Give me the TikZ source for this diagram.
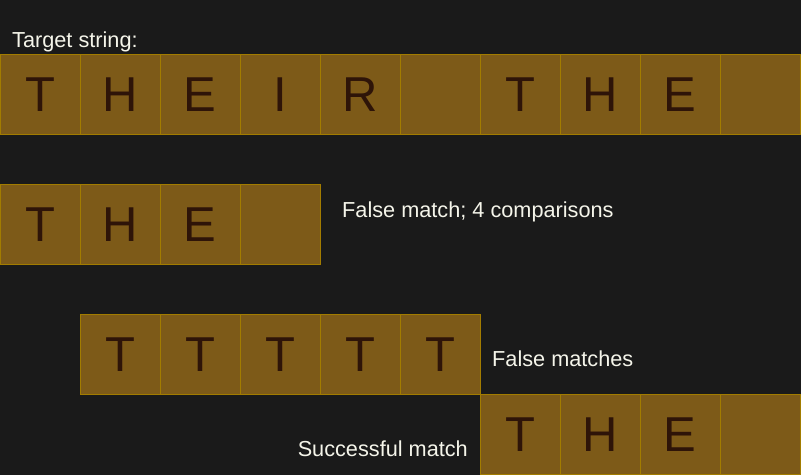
\documentclass[tikz,border=0pt]{standalone}
\usepackage{fontspec}
\setmainfont{Liberation Sans}
\definecolor{bgc}{HTML}{1A1A1A}
\definecolor{cellfill}{HTML}{7D5A18}
\definecolor{celledge}{HTML}{A27C00}
\definecolor{letterc}{HTML}{2E1408}
\definecolor{labelc}{HTML}{F5F5EA}
\begin{document}
\begin{tikzpicture}[x=1pt,y=-1pt,
  cell/.style={draw=celledge,line width=1pt,fill=cellfill,minimum width=80pt,minimum height=80pt,
    inner sep=0pt,text height=35pt,text depth=0pt,text=letterc,font=\fontsize{49}{49}\selectfont},
  lbl/.style={text=labelc,font=\fontsize{21.7}{21.7}\selectfont,inner sep=0pt,anchor=base west}]
\fill[bgc] (0,0) rectangle (801,475);
\useasboundingbox (0,0) rectangle (801,475);
% row 1: target
\foreach \L [count=\i from 0] in {T,H,E,I,R,{},T,H,E,{}} {
  \node[cell] (a\i) at (40+80*\i,94) {\L};
}
% row 2
\foreach \L [count=\i from 0] in {T,H,E,{}} {
  \node[cell] (b\i) at (40+80*\i,224) {\L};
}
% row 3
\foreach \L [count=\i from 0] in {T,T,T,T,T} {
  \node[cell] (c\i) at (120+80*\i,354) {\L};
}
% row 4
\foreach \L [count=\i from 0] in {T,H,E,{}} {
  \node[cell] (d\i) at (520+80*\i,434) {\L};
}
\node[lbl] (t1) at (12,47) {Target string:};
\node[lbl] (t2) at (342,217) {False match; 4 comparisons};
\node[lbl] (t3) at (492,366) {False matches};
\node[lbl,anchor=base east] (t4) at (468,456) {Successful match};
\end{tikzpicture}
\end{document}
